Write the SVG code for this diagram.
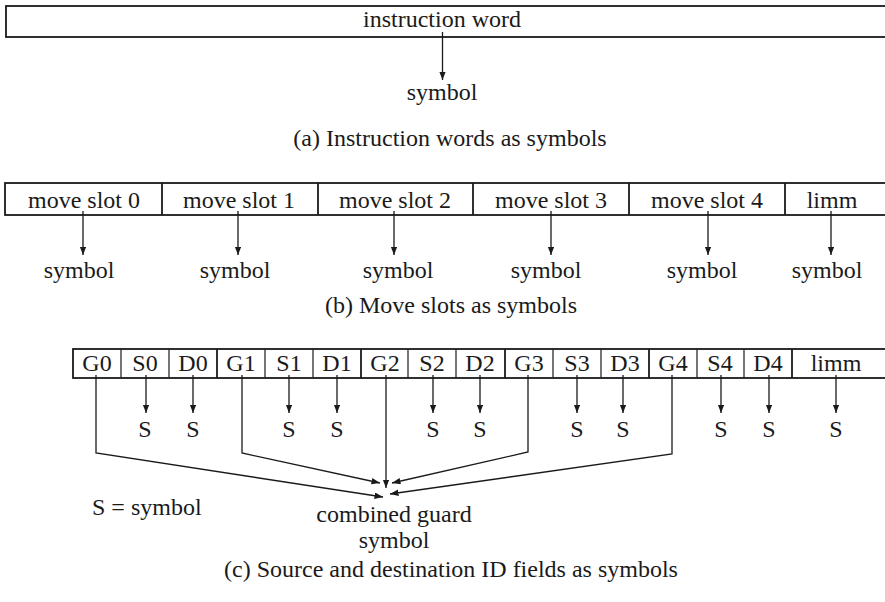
<svg xmlns="http://www.w3.org/2000/svg" width="885" height="602" viewBox="0 0 885 602" font-family="'Liberation Serif', 'Times New Roman', serif">
<defs>
<marker id="ah" markerWidth="9" markerHeight="7" refX="8.5" refY="3.25" orient="auto" markerUnits="userSpaceOnUse">
<path d="M0,0 L8.5,3.25 L0,6.5 z" fill="#1a1a1a"/>
</marker>
<style>
text{font-family:"Liberation Serif","Times New Roman",serif;font-size:24px;fill:#1a1a1a}
.c{text-anchor:middle}
.box{fill:none;stroke:#1a1a1a;stroke-width:1.8}
.div{stroke:#1a1a1a;stroke-width:1.8}
.thin{stroke:#1a1a1a;stroke-width:1.2}
.arr{fill:none;stroke:#1a1a1a;stroke-width:1.3;marker-end:url(#ah)}
</style>
</defs>
<rect width="885" height="602" fill="#fff"/>

<!-- (a) -->
<g id="instruction-word">
<rect class="box" x="6" y="6" width="884" height="31"/>
<text class="c" x="442" y="27">instruction word</text>
</g>
<g id="symbol-a"><text class="c" x="442" y="100">symbol</text></g>
<g id="caption-a"><text class="c" x="450" y="146">(a)<tspan dx="6">Instruction words as symbols</tspan></text></g>

<!-- (b) -->
<g id="move-slots">
<rect class="box" x="5" y="183" width="885" height="32"/>
<line class="div" x1="162" y1="183" x2="162" y2="215"/>
<line class="div" x1="318" y1="183" x2="318" y2="215"/>
<line class="div" x1="473" y1="183" x2="473" y2="215"/>
<line class="div" x1="629" y1="183" x2="629" y2="215"/>
<line class="div" x1="785" y1="183" x2="785" y2="215"/>
<text class="c" x="84" y="208">move slot 0</text>
<text class="c" x="239" y="208">move slot 1</text>
<text class="c" x="395" y="208">move slot 2</text>
<text class="c" x="551" y="208">move slot 3</text>
<text class="c" x="707" y="208">move slot 4</text>
<text class="c" x="832" y="208">limm</text>
</g>
<g id="symbols-b">
<text class="c" x="79" y="278">symbol</text>
<text class="c" x="235" y="278">symbol</text>
<text class="c" x="398" y="278">symbol</text>
<text class="c" x="546" y="278">symbol</text>
<text class="c" x="702" y="278">symbol</text>
<text class="c" x="827" y="278">symbol</text>
</g>
<g id="caption-b"><text class="c" x="451" y="313">(b)<tspan dx="6">Move slots as symbols</tspan></text></g>

<!-- (c) -->
<g id="fields">
<rect class="box" x="73" y="349" width="820" height="29"/>
<line class="thin" x1="121" y1="349" x2="121" y2="378"/>
<line class="thin" x1="169" y1="349" x2="169" y2="378"/>
<line class="div" x1="217" y1="349" x2="217" y2="378"/>
<line class="thin" x1="265" y1="349" x2="265" y2="378"/>
<line class="thin" x1="313" y1="349" x2="313" y2="378"/>
<line class="div" x1="361" y1="349" x2="361" y2="378"/>
<line class="thin" x1="408" y1="349" x2="408" y2="378"/>
<line class="thin" x1="456" y1="349" x2="456" y2="378"/>
<line class="div" x1="505" y1="349" x2="505" y2="378"/>
<line class="thin" x1="553" y1="349" x2="553" y2="378"/>
<line class="thin" x1="601" y1="349" x2="601" y2="378"/>
<line class="div" x1="649" y1="349" x2="649" y2="378"/>
<line class="thin" x1="697" y1="349" x2="697" y2="378"/>
<line class="thin" x1="744" y1="349" x2="744" y2="378"/>
<line class="div" x1="792" y1="349" x2="792" y2="378"/>
<text class="c" x="97" y="371">G0</text>
<text class="c" x="145" y="371">S0</text>
<text class="c" x="193" y="371">D0</text>
<text class="c" x="241" y="371">G1</text>
<text class="c" x="289" y="371">S1</text>
<text class="c" x="337" y="371">D1</text>
<text class="c" x="385" y="371">G2</text>
<text class="c" x="432" y="371">S2</text>
<text class="c" x="480" y="371">D2</text>
<text class="c" x="529" y="371">G3</text>
<text class="c" x="577" y="371">S3</text>
<text class="c" x="625" y="371">D3</text>
<text class="c" x="673" y="371">G4</text>
<text class="c" x="720" y="371">S4</text>
<text class="c" x="768" y="371">D4</text>
<text class="c" x="836" y="371">limm</text>
</g>
<g id="symbols-c">
<text class="c" x="145" y="437">S</text>
<text class="c" x="193" y="437">S</text>
<text class="c" x="289" y="437">S</text>
<text class="c" x="337" y="437">S</text>
<text class="c" x="433" y="437">S</text>
<text class="c" x="480" y="437">S</text>
<text class="c" x="577" y="437">S</text>
<text class="c" x="623" y="437">S</text>
<text class="c" x="721" y="437">S</text>
<text class="c" x="769" y="437">S</text>
<text class="c" x="836" y="437">S</text>
</g>
<g id="legend"><text x="92" y="515">S = symbol</text></g>
<g id="combined-guard">
<text class="c" x="394" y="522">combined guard</text>
<text class="c" x="394" y="548">symbol</text>
</g>
<g id="caption-c"><text class="c" x="451" y="577">(c)<tspan dx="6">Source and destination ID fields as symbols</tspan></text></g>

<g id="connectors">
<line class="arr" x1="442.5" y1="32" x2="442.5" y2="80"/>
<line class="arr" x1="83" y1="211" x2="83" y2="255"/>
<line class="arr" x1="238" y1="211" x2="238" y2="255"/>
<line class="arr" x1="394" y1="211" x2="394" y2="255"/>
<line class="arr" x1="551" y1="211" x2="551" y2="255"/>
<line class="arr" x1="708" y1="211" x2="708" y2="255"/>
<line class="arr" x1="831" y1="211" x2="831" y2="255"/>
<line class="arr" x1="146" y1="375" x2="146" y2="413"/>
<line class="arr" x1="193" y1="375" x2="193" y2="413"/>
<line class="arr" x1="289" y1="375" x2="289" y2="413"/>
<line class="arr" x1="337" y1="375" x2="337" y2="413"/>
<line class="arr" x1="433" y1="375" x2="433" y2="413"/>
<line class="arr" x1="480" y1="375" x2="480" y2="413"/>
<line class="arr" x1="577" y1="375" x2="577" y2="413"/>
<line class="arr" x1="623" y1="375" x2="623" y2="413"/>
<line class="arr" x1="721" y1="375" x2="721" y2="413"/>
<line class="arr" x1="769" y1="375" x2="769" y2="413"/>
<line class="arr" x1="836" y1="375" x2="836" y2="413"/>
<polyline class="arr" points="96,375 96,453 383,497"/>
<polyline class="arr" points="242,375 242,453 380,483"/>
<line class="arr" x1="386" y1="375" x2="386" y2="488"/>
<polyline class="arr" points="528,375 528,452 392,483"/>
<polyline class="arr" points="672,375 672,454 390,494"/>
</g>
</svg>
